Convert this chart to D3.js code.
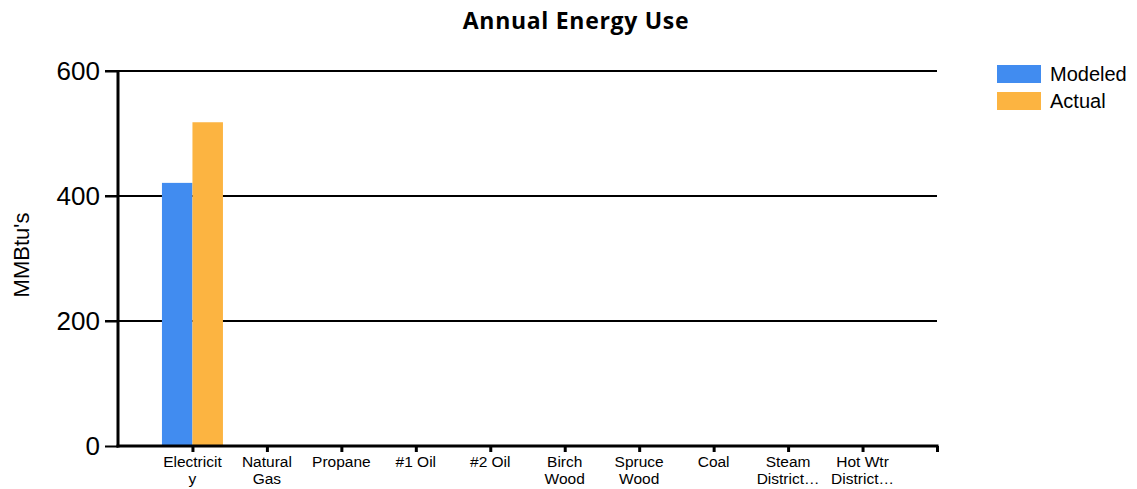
<!DOCTYPE html>
<html>
<head>
<meta charset="utf-8">
<script src="https://cdn.jsdelivr.net/npm/d3@7"></script>
<style>
  html, body { margin: 0; padding: 0; background: #fff; }
  svg { display: block; }
</style>
</head>
<body>
<svg id="chart" width="1137" height="489"></svg>
<script>
// Fuel categories and their wrapped axis labels
const categories = ["Electricity", "Natural Gas", "Propane", "#1 Oil", "#2 Oil",
  "Birch Wood", "Spruce Wood", "Coal", "Steam District", "Hot Wtr District"];
const categoryLabels = [["Electricit", "y"], ["Natural", "Gas"], ["Propane"], ["#1 Oil"], ["#2 Oil"],
  ["Birch", "Wood"], ["Spruce", "Wood"], ["Coal"], ["Steam", "District…"], ["Hot Wtr", "District…"]];

// Annual energy use, MMBtu
const seriesNames = ["Modeled", "Actual"];
const modeled = [421, 0, 0, 0, 0, 0, 0, 0, 0, 0];
const actual  = [518, 0, 0, 0, 0, 0, 0, 0, 0, 0];
const seriesColors = ["#418CF0", "#FCB441"];

const yTicks = [0, 200, 400, 600];

const svg = d3.select("#chart");
const plot = { left: 118, right: 937, top: 71, bottom: 446 };

// An extra trailing slot closes the category axis with a final tick
const slots = categories.concat([""]);
const x = d3.scalePoint().domain(slots)
  .range([plot.left + (plot.right - plot.left) / 11, plot.right]);
const barW = 30.5;
const xs = d3.scaleBand().domain(seriesNames).range([-barW, barW]);
const y = d3.scaleLinear().domain([0, 600]).range([plot.bottom, plot.top]);

// Horizontal gridlines extending left as ticks
svg.append("g").selectAll("line").data(yTicks.filter(d => d > 0)).join("line")
  .attr("x1", 105).attr("x2", plot.right)
  .attr("y1", d => y(d)).attr("y2", d => y(d))
  .attr("stroke", "#000").attr("stroke-width", 2);

// Bars
const rows = categories.map((c, i) => ({ cat: c, vals: [modeled[i], actual[i]] }));
const groups = svg.append("g").selectAll("g").data(rows).join("g")
  .attr("transform", d => `translate(${x(d.cat)},0)`);
groups.selectAll("rect").data(d => d.vals.map((v, j) => ({ key: seriesNames[j], v, j })))
  .join("rect")
  .attr("x", d => xs(d.key))
  .attr("width", xs.bandwidth())
  .attr("y", d => y(d.v))
  .attr("height", d => y(0) - y(d.v))
  .attr("fill", d => seriesColors[d.j]);

// Y axis
const yAxis = svg.append("g").attr("transform", `translate(${plot.left},0)`)
  .call(d3.axisLeft(y).tickValues(yTicks).tickSize(13).tickPadding(5));
yAxis.select(".domain").remove();
yAxis.selectAll(".tick line").attr("stroke", "#000").attr("stroke-width", 2);
yAxis.selectAll(".tick text")
  .attr("font-family", "'Liberation Sans', Arial, sans-serif")
  .attr("font-size", 26).attr("fill", "#000");
svg.append("line")
  .attr("x1", plot.left).attr("x2", plot.left)
  .attr("y1", plot.top).attr("y2", plot.bottom + 1.5)
  .attr("stroke", "#000").attr("stroke-width", 3);

// X axis
const xAxis = svg.append("g").attr("transform", `translate(0,${plot.bottom})`)
  .call(d3.axisBottom(x).tickSize(6).tickFormat(() => ""));
xAxis.select(".domain").remove();
xAxis.selectAll(".tick line").attr("stroke", "#000").attr("stroke-width", 3);
svg.append("line")
  .attr("x1", plot.left - 1.5).attr("x2", plot.right + 1.5)
  .attr("y1", plot.bottom).attr("y2", plot.bottom)
  .attr("stroke", "#000").attr("stroke-width", 3);

const labelG = svg.append("g")
  .attr("font-family", "'Liberation Sans', Arial, sans-serif")
  .attr("font-size", 15.5).attr("fill", "#000").attr("text-anchor", "middle");
categories.forEach((c, i) => {
  const t = labelG.append("text").attr("x", x(c)).attr("y", 467);
  categoryLabels[i].forEach((line, k) => {
    t.append("tspan").attr("x", x(c)).attr("dy", k === 0 ? 0 : 17).text(line);
  });
});

// Y axis title
svg.append("text")
  .attr("transform", "translate(28.5,255) rotate(-90)")
  .attr("text-anchor", "middle")
  .attr("font-family", "'Liberation Sans', Arial, sans-serif")
  .attr("font-size", 22).attr("fill", "#000")
  .text("MMBtu's");

// Chart title
svg.append("text")
  .attr("x", 576).attr("y", 29)
  .attr("text-anchor", "middle")
  .attr("font-family", "'Open Sans', sans-serif")
  .attr("font-weight", "bold")
  .attr("font-size", 23).attr("letter-spacing", 0.7).attr("fill", "#000")
  .text("Annual Energy Use");

// Legend
const legend = svg.append("g").selectAll("g").data(seriesNames).join("g")
  .attr("transform", (d, i) => `translate(997,${65 + i * 27})`);
legend.append("rect").attr("width", 44).attr("height", 18)
  .attr("fill", (d, i) => seriesColors[i]);
legend.append("text").attr("x", 53).attr("y", 9).attr("dy", "0.35em")
  .attr("font-family", "'Liberation Sans', Arial, sans-serif")
  .attr("font-size", 20).attr("fill", "#000")
  .text(d => d);
</script>
</body>
</html>
